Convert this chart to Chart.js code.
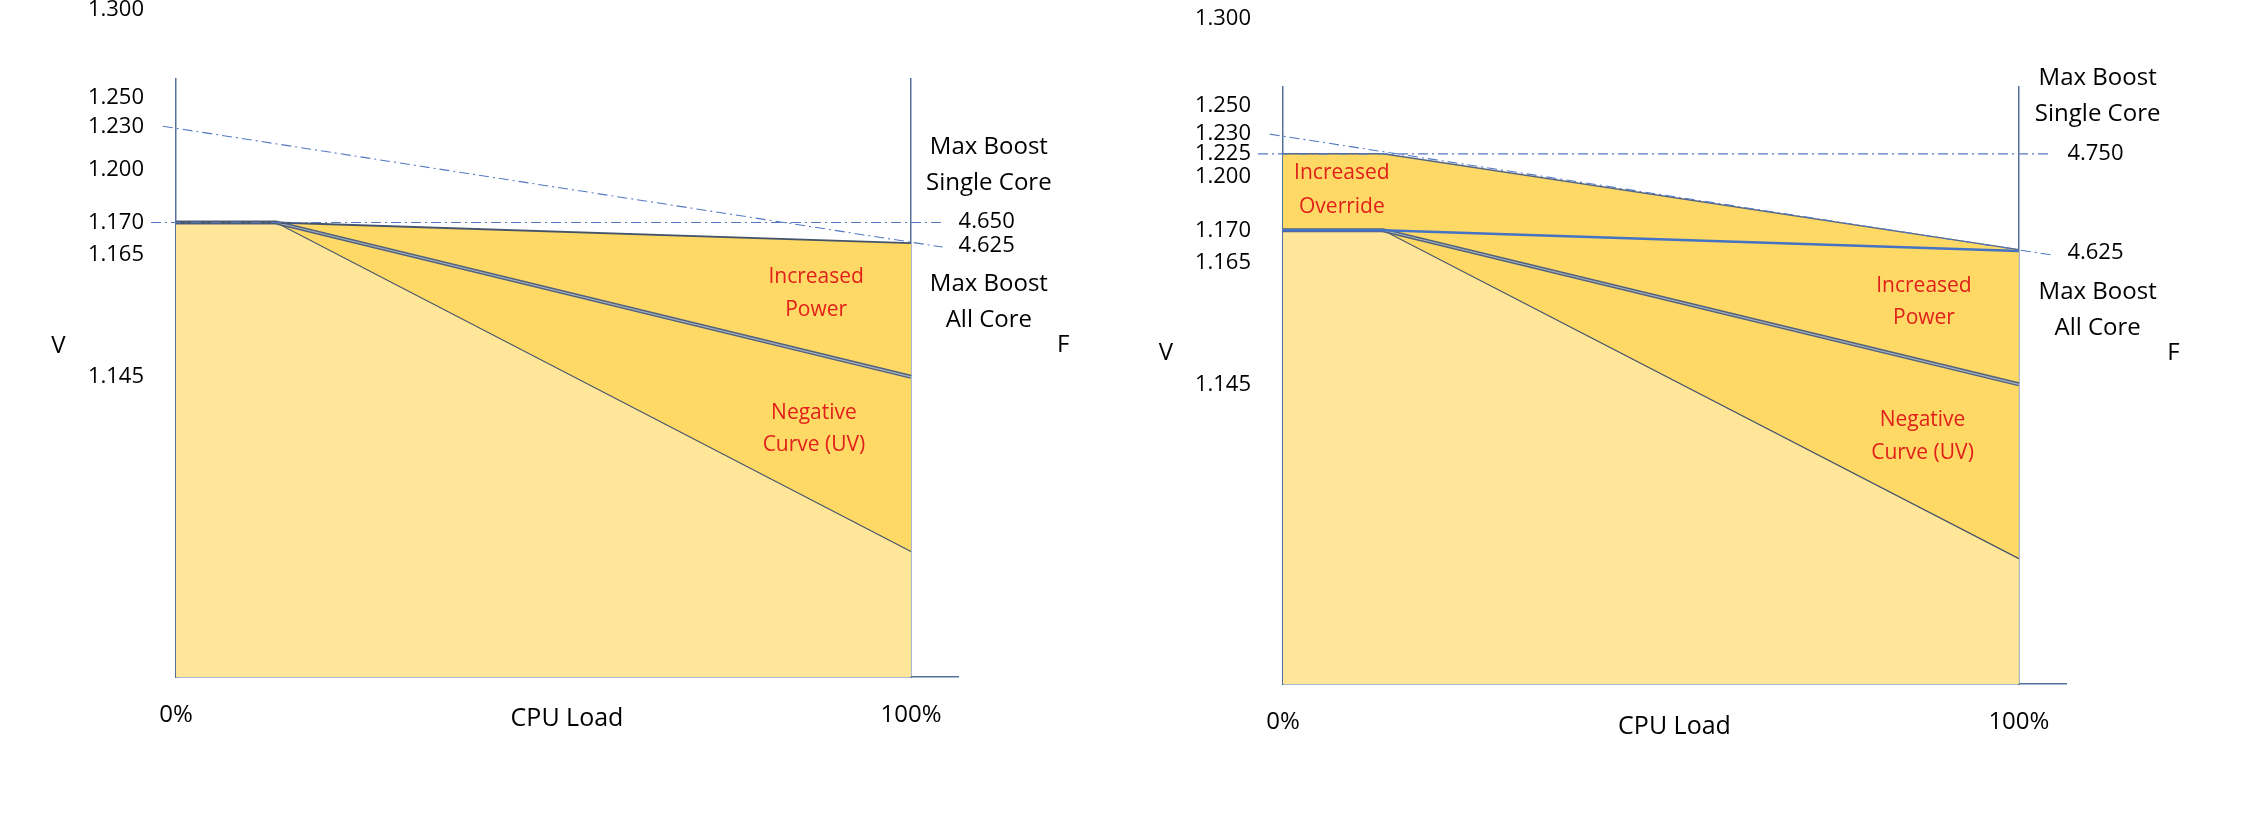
<!DOCTYPE html>
<html lang="en">
<head>
<meta charset="UTF-8">
<title>Curve Optimizer V/F</title>
<script src="https://cdn.jsdelivr.net/npm/chart.js"></script>
<style>
    body { margin: 0; padding: 0; background: #fff; overflow: hidden; }
    .wrap { position: absolute; top: 0; width: 1129px; height: 822px; }
    #left { left: 0; }
    #right { left: 1129px; }
</style>
</head>
<body>
<div class="wrap" id="left"><canvas id="leftChart" width="1129" height="822"></canvas></div>
<div class="wrap" id="right"><canvas id="rightChart" width="1129" height="822"></canvas></div>
<script>
// CPU load (%) at the corners of each curve
const loadPts = [0, 13.6, 100];

// voltage along each curve (V)
const stockV    = [1.170, 1.170, 1.1165];  // stock curve
const curveV    = [1.170, 1.170, 1.145];   // negative curve (UV)
const powerV    = [1.170, 1.170, 1.1668];  // increased power
const overrideV = [1.225, 1.225, 1.167];   // increased override (right)

// dash-dot guide lines
const guideLoad    = [-3.4, 104.3];
const slopeLoad    = [-1.8, 104.3];
const slopeV       = [1.230, 1.1662];
const singleLeftV  = [1.170, 1.170];
const singleRightV = [1.225, 1.225];

// tick labels
const vTicksLeft  = [1.300, 1.250, 1.230, 1.200, 1.170, 1.165, 1.145];
const vTicksRight = [1.300, 1.250, 1.230, 1.225, 1.200, 1.170, 1.165, 1.145];
const loadTicks   = [0, 100];
const freqLeft    = ['4.650', '4.625'];
const freqRight   = ['4.750', '4.625'];

// the V axis in the sketch is not linear, every labelled voltage has its own height
// [volts, fraction of plot height]
const vAnchors = [[1.096, 0], [1.145, 0.502], [1.165, 0.706], [1.170, 0.760],
                  [1.200, 0.849], [1.225, 0.888], [1.230, 0.921], [1.250, 0.969], [1.300, 1.115]];

function voltToFrac(v) {
    let i = 1;
    while (i < vAnchors.length - 1 && v > vAnchors[i][0]) i++;
    const [v0, f0] = vAnchors[i - 1];
    const [v1, f1] = vAnchors[i];
    return f0 + (v - v0) * (f1 - f0) / (v1 - v0);
}
function fracToVolt(f) {
    let i = 1;
    while (i < vAnchors.length - 1 && f > vAnchors[i][1]) i++;
    const [v0, f0] = vAnchors[i - 1];
    const [v1, f1] = vAnchors[i];
    return v0 + (f - f0) * (v1 - v0) / (f1 - f0);
}

class PiecewiseScale extends Chart.LinearScale {
    static id = 'piecewise';
    static defaults = {};
    getPixelForValue(value) {
        if (value === null || value === undefined) return NaN;
        return this.bottom - voltToFrac(value) * (this.bottom - this.top);
    }
    getValueForPixel(pixel) {
        return fracToVolt((this.bottom - pixel) / (this.bottom - this.top));
    }
}
Chart.register(PiecewiseScale);

const LIGHT = '#FFE699';
const GOLD = '#FFD966';
const DASH = '#5479C2';
const EDGE = '#44546A';
const AXIS = '#55729E';
const RED = '#E0201A';
const FONT = 'Open Sans';

function pts(xs, ys) {
    return xs.map((x, i) => ({ x: x, y: ys[i] }));
}

function dashed(xs, ys) {
    return { data: pts(xs, ys), borderColor: DASH, borderWidth: 1.1, borderDash: [10, 4, 2, 4], clip: false };
}

// text written on the sketch: x in CPU load %, f = fraction of plot height
function notesPlugin(items) {
    return {
        id: 'notes',
        afterDraw(chart) {
            const { ctx, chartArea: a, scales: { x } } = chart;
            ctx.save();
            ctx.textAlign = 'center';
            ctx.textBaseline = 'middle';
            items.forEach(n => {
                ctx.font = (n.size || 24) + 'px "' + FONT + '"';
                ctx.fillStyle = n.color || '#000';
                ctx.fillText(n.text, x.getPixelForValue(n.x), a.bottom - n.f * a.height);
            });
            ctx.restore();
        }
    };
}

function makeChart(id, datasets, vTicks, notes, box) {
    return new Chart(document.getElementById(id), {
        type: 'line',
        data: { datasets: datasets },
        options: {
            responsive: false,
            animation: false,
            devicePixelRatio: 1,
            layout: { padding: { top: box.top, right: box.right, bottom: 0, left: 0 } },
            elements: { point: { radius: 0 }, line: { tension: 0 } },
            plugins: {
                legend: { display: false },
                tooltip: { enabled: false },
                filler: { drawTime: 'beforeDatasetsDraw' }
            },
            scales: {
                x: {
                    type: 'linear', min: 0, max: 106.4,
                    grid: { display: false, drawTicks: false },
                    border: { color: AXIS, width: 1.5 },
                    afterBuildTicks: s => { s.ticks = loadTicks.map(v => ({ value: v })); },
                    afterFit: s => { s.height = box.xHeight; },
                    ticks: { autoSkip: false, maxRotation: 0, padding: 24, color: '#000',
                             font: { family: FONT, size: 24 }, callback: v => v + '%' },
                    title: { display: true, text: 'CPU Load', color: '#000',
                             font: { family: FONT, size: 25 }, padding: { top: 0, bottom: box.titlePad } }
                },
                y: {
                    type: 'piecewise', min: 1.096, max: 1.3,
                    grid: { display: false, drawTicks: false },
                    border: { color: AXIS, width: 1.5 },
                    afterBuildTicks: s => { s.ticks = vTicks.map(v => ({ value: v })); },
                    afterFit: s => { s.width = box.yWidth; },
                    ticks: { autoSkip: false, padding: 32, color: '#000',
                             font: { family: FONT, size: 22 }, callback: v => v.toFixed(3) }
                },
                f: {
                    type: 'linear', axis: 'y', position: { x: 100 },
                    grid: { display: false, drawTicks: false },
                    ticks: { display: false },
                    border: { color: AXIS, width: 1.5 }
                }
            }
        },
        plugins: [notesPlugin(notes)]
    });
}

// the negative-curve edge is a double line: dark outside, light core
function doubleLine(ys) {
    return [
        { data: pts(loadPts, ys), borderColor: '#A7B1C0', borderWidth: 1.2 },
        { data: pts(loadPts, ys), borderColor: '#52627A', borderWidth: 4 }
    ];
}

// left: stock boost override
makeChart('leftChart', [
    dashed(guideLoad, singleLeftV),
    dashed(slopeLoad, slopeV),
    { data: pts(loadPts, powerV), borderColor: EDGE, borderWidth: 1.8, fill: 5, backgroundColor: GOLD },
    ...doubleLine(curveV),
    { data: pts(loadPts, stockV), borderColor: EDGE, borderWidth: 1.2, fill: 'start', backgroundColor: LIGHT }
], vTicksLeft, [
    { text: 'V', x: -16, f: 0.553 },
    { text: 'Max Boost', x: 110.6, f: 0.886 },
    { text: 'Single Core', x: 110.6, f: 0.826 },
    { text: freqLeft[0], x: 110.3, f: 0.761, size: 22 },
    { text: freqLeft[1], x: 110.3, f: 0.721, size: 22 },
    { text: 'Max Boost', x: 110.6, f: 0.657 },
    { text: 'All Core', x: 110.6, f: 0.597 },
    { text: 'F', x: 120.7, f: 0.555 },
    { text: 'Increased', x: 87.1, f: 0.669, size: 21, color: RED },
    { text: 'Power', x: 87.1, f: 0.614, size: 21, color: RED },
    { text: 'Negative', x: 86.8, f: 0.441, size: 21, color: RED },
    { text: 'Curve (UV)', x: 86.8, f: 0.388, size: 21, color: RED }
], { top: 79, right: 171, yWidth: 176, xHeight: 145, titlePad: 88 });

// right: with boost override raised
makeChart('rightChart', [
    dashed(guideLoad, singleRightV),
    dashed(slopeLoad, slopeV),
    { data: pts(loadPts, overrideV), borderColor: '#55657F', borderWidth: 1.5, fill: 3, backgroundColor: GOLD },
    { data: pts(loadPts, powerV), borderColor: '#4472C4', borderWidth: 2.5, fill: 6, backgroundColor: GOLD },
    ...doubleLine(curveV),
    { data: pts(loadPts, stockV), borderColor: EDGE, borderWidth: 1.2, fill: 'start', backgroundColor: LIGHT }
], vTicksRight, [
    { text: 'V', x: -15.9, f: 0.554 },
    { text: 'Max Boost', x: 110.7, f: 1.015 },
    { text: 'Single Core', x: 110.7, f: 0.955 },
    { text: freqRight[0], x: 110.4, f: 0.889, size: 22 },
    { text: freqRight[1], x: 110.4, f: 0.722, size: 22 },
    { text: 'Max Boost', x: 110.7, f: 0.657 },
    { text: 'All Core', x: 110.7, f: 0.596 },
    { text: 'F', x: 121, f: 0.554 },
    { text: 'Increased', x: 8.0, f: 0.856, size: 21, color: RED },
    { text: 'Override', x: 8.0, f: 0.799, size: 21, color: RED },
    { text: 'Increased', x: 87.1, f: 0.667, size: 21, color: RED },
    { text: 'Power', x: 87.1, f: 0.613, size: 21, color: RED },
    { text: 'Negative', x: 86.9, f: 0.442, size: 21, color: RED },
    { text: 'Curve (UV)', x: 86.9, f: 0.387, size: 21, color: RED }
], { top: 87, right: 192, yWidth: 154, xHeight: 138, titlePad: 80 });
</script>
</body>
</html>
